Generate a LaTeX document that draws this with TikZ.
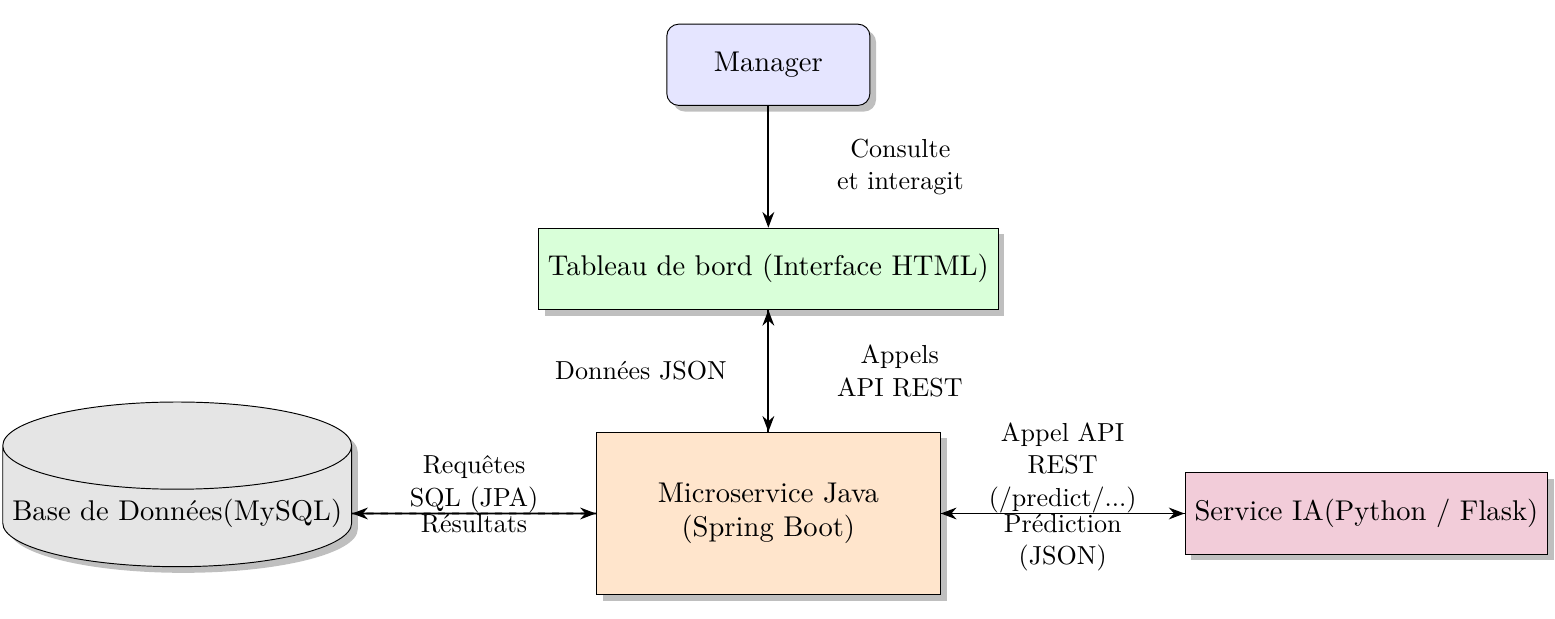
\documentclass[tikz,border=0pt,12pt]{standalone}
\usepackage{fontspec}
\setmainfont{lmroman10-regular.otf}
\usepackage{tikz}
\usetikzlibrary{shapes.geometric, arrows.meta, shadows}
\usetikzlibrary{positioning}
\tikzstyle{actor} = [rectangle, rounded corners=5pt, minimum width=3cm, minimum height=1.2cm, text centered, draw=black, fill=blue!10, drop shadow]
\tikzstyle{box} = [rectangle, minimum height=1.2cm, text centered, draw=black, drop shadow]
\tikzstyle{db} = [cylinder, shape border rotate=90, aspect=0.25, minimum height=2.4cm, text centered, draw=black, fill=gray!20, drop shadow]
\tikzstyle{arrow} = [thick,-{Stealth}]
\tikzstyle{back} = [thick,-{Stealth},dashed]
\tikzstyle{edgeLabel} = [font=\small, align=center, inner sep=0pt]

\begin{document}
\begin{tikzpicture}[node distance = 1.8cm]
\useasboundingbox (-11.35,-1.544) rectangle (11.62,7.585);
\node (ms) [box, fill=orange!20, text width=4.8cm, align=center, minimum height=2.4cm] {Microservice Java\\(Spring Boot)};
\node (dash) [box, fill=green!15, above = of ms] {Tableau de bord (Interface HTML)};
\node (mgr) [actor, above = of dash] {Manager};
\node (ia) [box, fill=purple!20, right = 3.6cm of ms] {Service IA(Python / Flask)};
\node (base) [db, left = 3.6cm of ms] {Base de Données(MySQL)};
% manager vers tableau
\draw [arrow] (mgr) -- node [edgeLabel, right=1cm] {Consulte\\et interagit} (dash);
% tableau <-> microservice
\draw [arrow] (dash) -- node [edgeLabel, right=1cm] {Appels\\API REST} (ms);
\draw [back] (ms) -- node [edgeLabel, left=0.6cm] {Données JSON} (dash);
% microservice <-> base
\draw [arrow] (ms) -- node [edgeLabel, above] {Requêtes\\SQL (JPA)} (base);
\draw [back] (base) -- node [edgeLabel, below] {Résultats} (ms);
% microservice <-> IA
\draw [arrow] (ms) -- node [edgeLabel, above] {Appel API\\REST\\(/predict/...)} (ia);
\draw [back] (ia) -- node [edgeLabel, below] {Prédiction\\(JSON)} (ms);
\end{tikzpicture}
\end{document}
